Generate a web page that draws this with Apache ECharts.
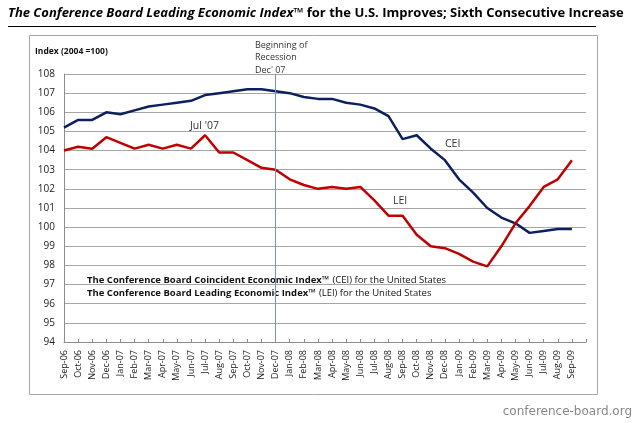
<!DOCTYPE html>
<html>
<head>
<meta charset="utf-8">
<script src="https://cdn.jsdelivr.net/npm/echarts@6/dist/echarts.min.js"></script>
<style>
  html, body { margin: 0; padding: 0; background: #fff; }
  #main { width: 640px; height: 423px; }
</style>
</head>
<body>
<div id="main"></div>
<script>
  // ====== data ======
  var months = ['Sep-06','Oct-06','Nov-06','Dec-06','Jan-07','Feb-07','Mar-07','Apr-07','May-07','Jun-07',
                'Jul-07','Aug-07','Sep-07','Oct-07','Nov-07','Dec-07','Jan-08','Feb-08','Mar-08','Apr-08',
                'May-08','Jun-08','Jul-08','Aug-08','Sep-08','Oct-08','Nov-08','Dec-08','Jan-09','Feb-09',
                'Mar-09','Apr-09','May-09','Jun-09','Jul-09','Aug-09','Sep-09',''];
  var cei = [105.2,105.6,105.6,106.0,105.9,106.1,106.3,106.4,106.5,106.6,
             106.9,107.0,107.1,107.2,107.2,107.1,107.0,106.8,106.7,106.7,
             106.5,106.4,106.2,105.8,104.6,104.8,104.1,103.5,102.5,101.8,
             101.0,100.5,100.2,99.7,99.8,99.9,99.9,null];
  var lei = [104.0,104.2,104.1,104.7,104.4,104.1,104.3,104.1,104.3,104.1,
             104.8,103.9,103.9,103.5,103.1,103.0,102.5,102.2,102.0,102.1,
             102.0,102.1,101.4,100.6,100.6,99.6,99.0,98.9,98.6,98.2,
             97.95,99.0,100.2,101.1,102.1,102.5,103.5,null];
  var yMin = 94, yMax = 108, yStep = 1;
  var recessionStart = 'Dec-07';

  var chart = echarts.init(document.getElementById('main'));
  var font = '"Open Sans", "Noto Sans", sans-serif';

  var option = {
    animation: false,
    backgroundColor: '#fff',
    grid: {
      left: 64,
      right: 54,
      top: 74,
      bottom: 81
    },
    xAxis: {
      type: 'category',
      data: months,
      boundaryGap: false,
      axisLine: { lineStyle: { color: '#8c8c8c', width: 1 } },
      axisTick: { show: true, inside: true, alignWithLabel: true, length: 3, lineStyle: { color: '#8c8c8c' } },
      axisLabel: {
        interval: 0,
        rotate: 90,
        fontSize: 9,
        color: '#222',
        fontFamily: font,
        margin: 8
      },
      splitLine: { show: false }
    },
    yAxis: {
      type: 'value',
      min: yMin,
      max: yMax,
      interval: yStep,
      axisLine: { show: true, lineStyle: { color: '#8c8c8c', width: 1 } },
      axisTick: { show: false },
      axisLabel: { fontSize: 10, color: '#222', fontFamily: font, margin: 9 },
      splitLine: { lineStyle: { color: '#a6a6a6', width: 1 } }
    },
    series: [
      {
        name: 'CEI',
        type: 'line',
        data: cei,
        symbol: 'none',
        lineStyle: { color: '#0d1f5c', width: 2.5 },
        markLine: {
          silent: true,
          symbol: 'none',
          label: { show: false },
          lineStyle: { color: '#6f93d3', width: 1, type: 'solid', opacity: 1 },
          emphasis: { disabled: true },
          data: [{ xAxis: recessionStart }]
        }
      },
      {
        name: 'LEI',
        type: 'line',
        data: lei,
        symbol: 'none',
        lineStyle: { color: '#c00000', width: 2.5 }
      }
    ],
    graphic: [
      // outer frame
      { type: 'rect', shape: { x: 29.5, y: 35.5, width: 568, height: 359 },
        style: { fill: null, stroke: '#a6a6a6', lineWidth: 1 }, z: -1 },
      // title
      { type: 'text', left: 8, top: 7,
        style: {
          text: '{a|The Conference Board Leading Economic Index™} {b|for the U.S. Improves; Sixth Consecutive Increase}',
          rich: {
            a: { fontSize: 13, fontWeight: 'bold', fontStyle: 'italic', fontFamily: font, fill: '#000' },
            b: { fontSize: 13, fontWeight: 'bold', fontFamily: font, fill: '#000' }
          }
        } },
      { type: 'line', shape: { x1: 8, y1: 26.5, x2: 596, y2: 26.5 }, style: { stroke: '#000', lineWidth: 1 } },
      // y axis name
      { type: 'text', left: 35, top: 47,
        style: { text: 'Index (2004 =100)', fontSize: 8.5, fontWeight: 'bold', fontFamily: font, fill: '#111' } },
      // recession annotation
      { type: 'text', left: 255, top: 39,
        style: { text: 'Beginning of\nRecession\nDec\' 07', fontSize: 9, lineHeight: 12.5, fontFamily: font, fill: '#333' } },
      { type: 'text', left: 190, top: 121,
        style: { text: 'Jul \'07', fontSize: 10.5, fontFamily: font, fill: '#333' } },
      { type: 'text', left: 393, top: 196,
        style: { text: 'LEI', fontSize: 10.5, fontFamily: font, fill: '#333' } },
      { type: 'text', left: 445, top: 139,
        style: { text: 'CEI', fontSize: 10.5, fontFamily: font, fill: '#333' } },
      // series description
      { type: 'text', left: 87, top: 274,
        style: {
          text: '{a|The Conference Board Coincident Economic Index™} {b|(CEI) for the United States}\n{a|The Conference Board Leading Economic Index™} {b|(LEI) for the United States}',
          rich: {
            a: { fontSize: 9.5, fontWeight: 'bold', fontFamily: font, fill: '#111', lineHeight: 13 },
            b: { fontSize: 9.5, fontFamily: font, fill: '#111', lineHeight: 13 }
          }
        } },
      // source
      { type: 'text', right: 8, top: 406,
        style: { text: 'conference-board.org', fontSize: 12, fontFamily: '"DejaVu Sans", sans-serif', fill: '#888' } }
    ]
  };
  chart.setOption(option);
</script>
</body>
</html>
